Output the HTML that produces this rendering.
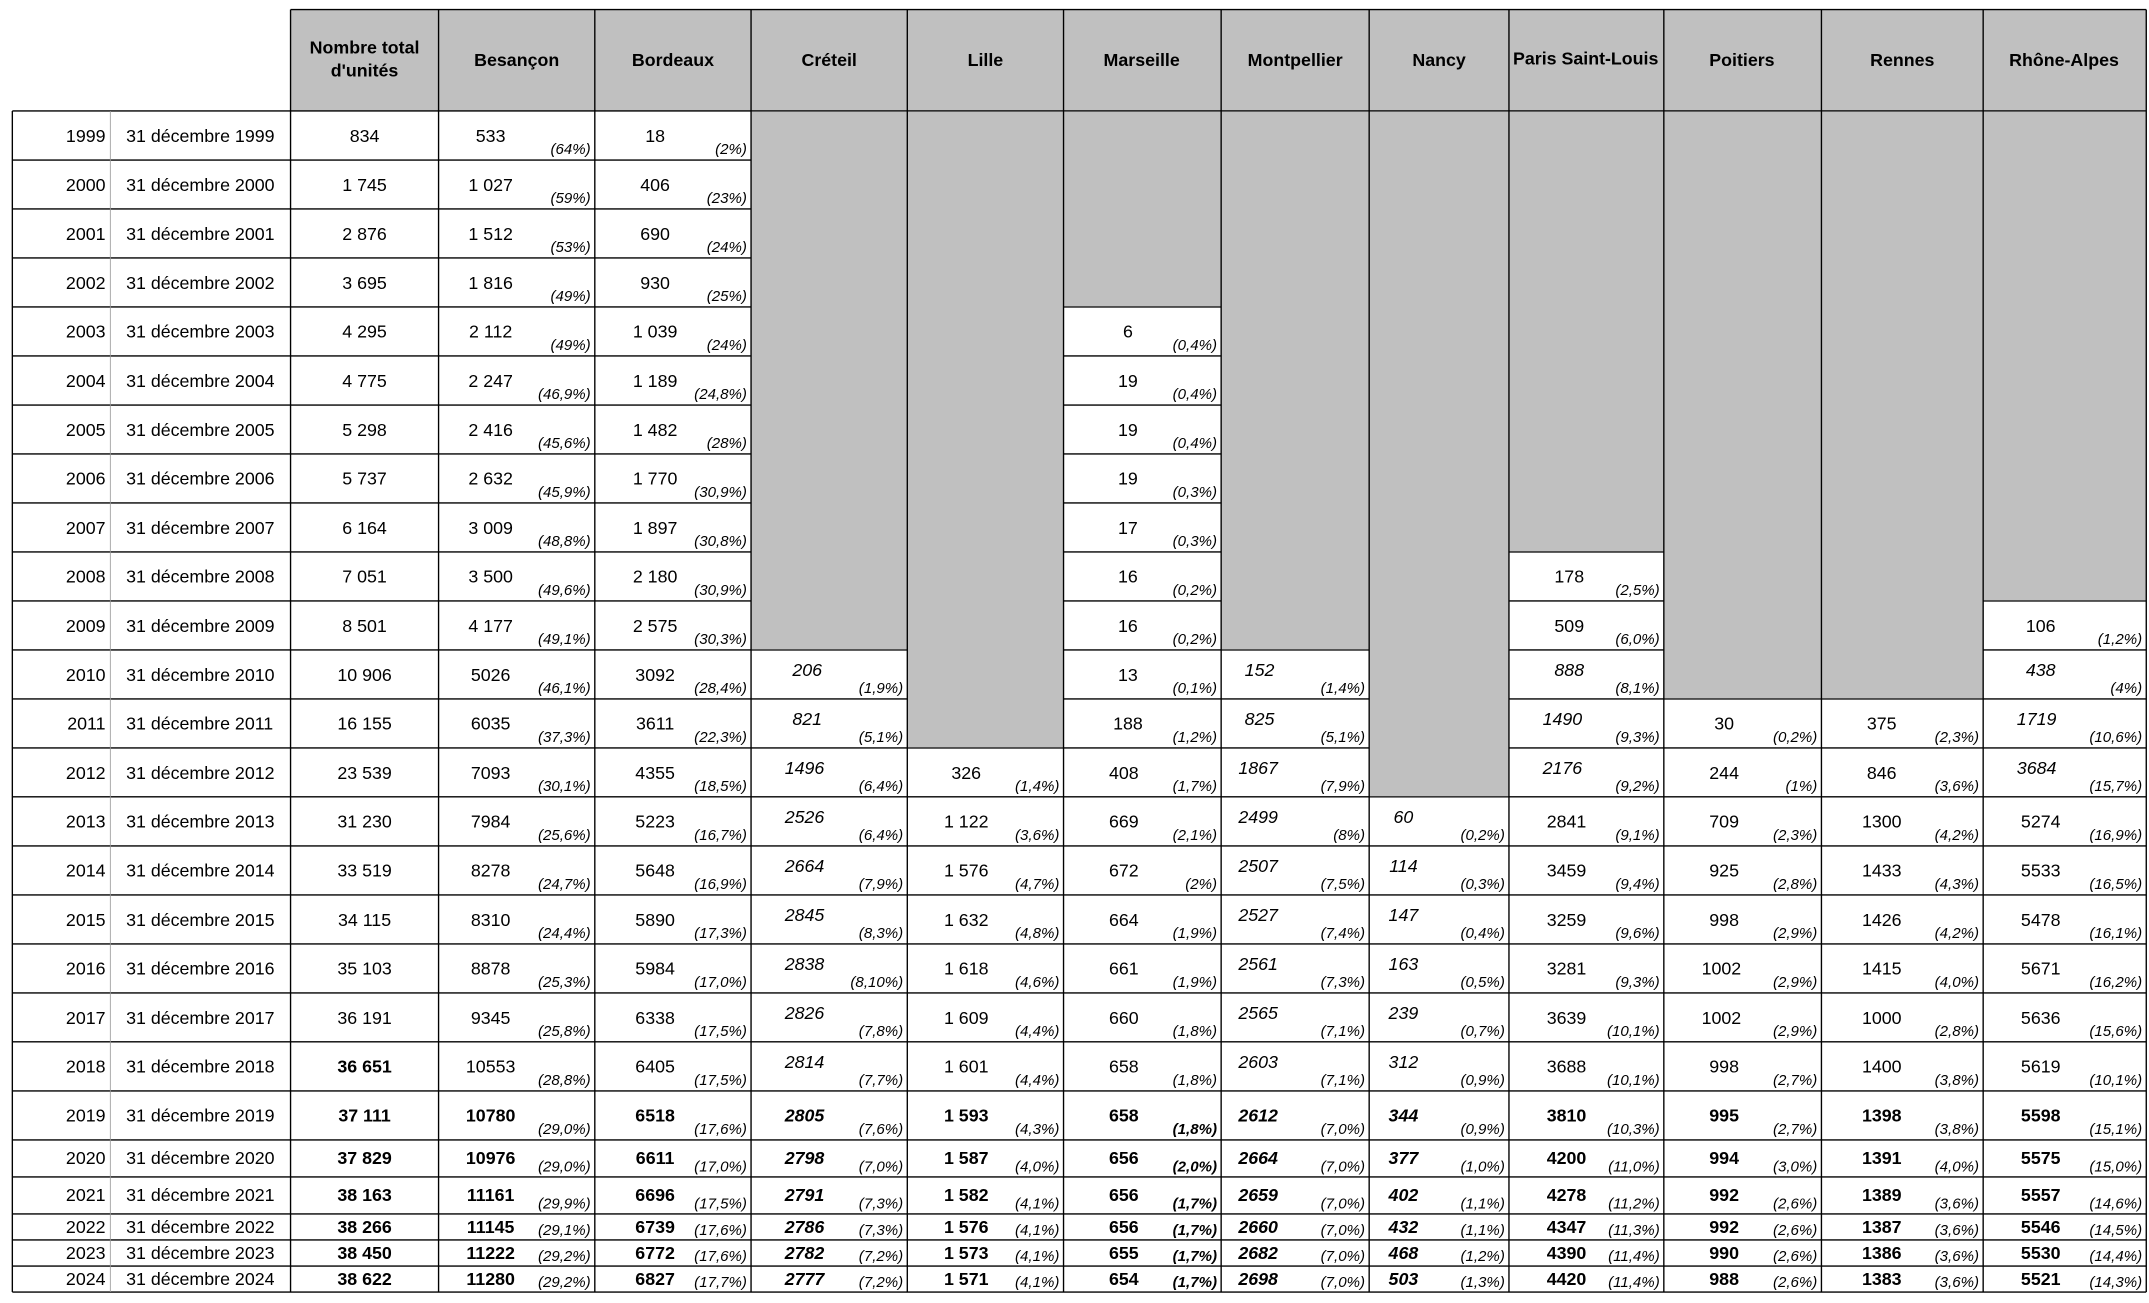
<!DOCTYPE html>
<html><head><meta charset="utf-8"><style>
html,body{margin:0;padding:0;background:#fff;}
svg{display:block;}
text{font-family:"Liberation Sans",Arial,sans-serif;fill:#000;}
.h{font-size:13px;font-weight:bold;text-anchor:middle;}
.v{font-size:13px;text-anchor:middle;}
.p{font-size:11px;font-style:italic;text-anchor:end;}
.y{font-size:13px;text-anchor:end;}
.d{font-size:13px;text-anchor:start;}
.i{font-style:italic;}
.b{font-weight:bold;}
</style></head><body>
<svg width="2149" height="1303" viewBox="0 0 1568 951" preserveAspectRatio="none" xmlns="http://www.w3.org/2000/svg">
<rect x="0" y="0" width="1568" height="951" fill="#fff"/>
<!-- header -->
<rect x="212" y="7" width="1354" height="74" fill="#c0c0c0"/>
<!-- horizontal lines -->
<g stroke="#000" stroke-width="1">
<line x1="212" y1="7" x2="1566" y2="7"/>
<line x1="9" y1="81" x2="1566" y2="81"/>
<line x1="9" y1="116.8" x2="1566" y2="116.8"/>
<line x1="9" y1="152.5" x2="1566" y2="152.5"/>
<line x1="9" y1="188.3" x2="1566" y2="188.3"/>
<line x1="9" y1="224" x2="1566" y2="224"/>
<line x1="9" y1="259.8" x2="1566" y2="259.8"/>
<line x1="9" y1="295.6" x2="1566" y2="295.6"/>
<line x1="9" y1="331.3" x2="1566" y2="331.3"/>
<line x1="9" y1="367.1" x2="1566" y2="367.1"/>
<line x1="9" y1="402.8" x2="1566" y2="402.8"/>
<line x1="9" y1="438.6" x2="1566" y2="438.6"/>
<line x1="9" y1="474.4" x2="1566" y2="474.4"/>
<line x1="9" y1="510.1" x2="1566" y2="510.1"/>
<line x1="9" y1="545.9" x2="1566" y2="545.9"/>
<line x1="9" y1="581.6" x2="1566" y2="581.6"/>
<line x1="9" y1="617.4" x2="1566" y2="617.4"/>
<line x1="9" y1="653.2" x2="1566" y2="653.2"/>
<line x1="9" y1="688.9" x2="1566" y2="688.9"/>
<line x1="9" y1="724.7" x2="1566" y2="724.7"/>
<line x1="9" y1="760.4" x2="1566" y2="760.4"/>
<line x1="9" y1="796.2" x2="1566" y2="796.2"/>
<line x1="9" y1="832" x2="1566" y2="832"/>
<line x1="9" y1="859" x2="1566" y2="859"/>
<line x1="9" y1="886" x2="1566" y2="886"/>
<line x1="9" y1="905" x2="1566" y2="905"/>
<line x1="9" y1="924" x2="1566" y2="924"/>
<line x1="9" y1="943" x2="1566" y2="943"/>
</g>
<!-- gray empty blocks -->
<g fill="#c0c0c0">
<rect x="548" y="81.5" width="114" height="392.4"/>
<rect x="662" y="81.5" width="114" height="463.9"/>
<rect x="776" y="81.5" width="115" height="142"/>
<rect x="891" y="81.5" width="108" height="392.4"/>
<rect x="999" y="81.5" width="102" height="499.6"/>
<rect x="1101" y="81.5" width="113" height="320.8"/>
<rect x="1214" y="81.5" width="115" height="428.1"/>
<rect x="1329" y="81.5" width="118" height="428.1"/>
<rect x="1447" y="81.5" width="119" height="356.6"/>
</g>
<!-- vertical lines -->
<g stroke="#000" stroke-width="1">
<line x1="9" y1="81" x2="9" y2="943"/>
<line x1="212" y1="7" x2="212" y2="943"/>
<line x1="320" y1="7" x2="320" y2="943"/>
<line x1="434" y1="7" x2="434" y2="943"/>
<line x1="548" y1="7" x2="548" y2="943"/>
<line x1="662" y1="7" x2="662" y2="943"/>
<line x1="776" y1="7" x2="776" y2="943"/>
<line x1="891" y1="7" x2="891" y2="943"/>
<line x1="999" y1="7" x2="999" y2="943"/>
<line x1="1101" y1="7" x2="1101" y2="943"/>
<line x1="1214" y1="7" x2="1214" y2="943"/>
<line x1="1329" y1="7" x2="1329" y2="943"/>
<line x1="1447" y1="7" x2="1447" y2="943"/>
<line x1="1566" y1="7" x2="1566" y2="943"/>
</g>
<line x1="80.5" y1="81" x2="80.5" y2="943" stroke="#999" stroke-width="0.6"/>
<!-- header text -->
<text class="h" x="266" y="39">Nombre total</text>
<text class="h" x="266" y="56">d'unités</text>
<text class="h" x="377" y="48">Besançon</text>
<text class="h" x="491" y="48">Bordeaux</text>
<text class="h" x="605" y="48">Créteil</text>
<text class="h" x="719" y="48">Lille</text>
<text class="h" x="833" y="48">Marseille</text>
<text class="h" x="945" y="48">Montpellier</text>
<text class="h" x="1050" y="48">Nancy</text>
<text class="h" x="1157" y="47">Paris Saint-Louis</text>
<text class="h" x="1271" y="48">Poitiers</text>
<text class="h" x="1388" y="48">Rennes</text>
<text class="h" x="1506" y="48">Rhône-Alpes</text>

<!-- rows -->
<g transform="translate(0,81)">
<text class="y" x="77" y="22.5">1999</text><text class="d" x="92" y="22.5">31 décembre 1999</text><text class="v" x="266" y="22.5">834</text>
<text class="v" x="358" y="22.5">533</text><text class="p" x="431" y="31.5">(64%)</text>
<text class="v" x="478" y="22.5">18</text><text class="p" x="545" y="31.5">(2%)</text>
</g>
<g transform="translate(0,116.8)">
<text class="y" x="77" y="22.5">2000</text><text class="d" x="92" y="22.5">31 décembre 2000</text><text class="v" x="266" y="22.5">1 745</text>
<text class="v" x="358" y="22.5">1 027</text><text class="p" x="431" y="31.5">(59%)</text>
<text class="v" x="478" y="22.5">406</text><text class="p" x="545" y="31.5">(23%)</text>
</g>
<g transform="translate(0,152.5)">
<text class="y" x="77" y="22.5">2001</text><text class="d" x="92" y="22.5">31 décembre 2001</text><text class="v" x="266" y="22.5">2 876</text>
<text class="v" x="358" y="22.5">1 512</text><text class="p" x="431" y="31.5">(53%)</text>
<text class="v" x="478" y="22.5">690</text><text class="p" x="545" y="31.5">(24%)</text>
</g>
<g transform="translate(0,188.3)">
<text class="y" x="77" y="22.5">2002</text><text class="d" x="92" y="22.5">31 décembre 2002</text><text class="v" x="266" y="22.5">3 695</text>
<text class="v" x="358" y="22.5">1 816</text><text class="p" x="431" y="31.5">(49%)</text>
<text class="v" x="478" y="22.5">930</text><text class="p" x="545" y="31.5">(25%)</text>
</g>
<g transform="translate(0,224)">
<text class="y" x="77" y="22.5">2003</text><text class="d" x="92" y="22.5">31 décembre 2003</text><text class="v" x="266" y="22.5">4 295</text>
<text class="v" x="358" y="22.5">2 112</text><text class="p" x="431" y="31.5">(49%)</text>
<text class="v" x="478" y="22.5">1 039</text><text class="p" x="545" y="31.5">(24%)</text>
<text class="v" x="823" y="22.5">6</text><text class="p" x="888" y="31.5">(0,4%)</text>
</g>
<g transform="translate(0,259.8)">
<text class="y" x="77" y="22.5">2004</text><text class="d" x="92" y="22.5">31 décembre 2004</text><text class="v" x="266" y="22.5">4 775</text>
<text class="v" x="358" y="22.5">2 247</text><text class="p" x="431" y="31.5">(46,9%)</text>
<text class="v" x="478" y="22.5">1 189</text><text class="p" x="545" y="31.5">(24,8%)</text>
<text class="v" x="823" y="22.5">19</text><text class="p" x="888" y="31.5">(0,4%)</text>
</g>
<g transform="translate(0,295.6)">
<text class="y" x="77" y="22.5">2005</text><text class="d" x="92" y="22.5">31 décembre 2005</text><text class="v" x="266" y="22.5">5 298</text>
<text class="v" x="358" y="22.5">2 416</text><text class="p" x="431" y="31.5">(45,6%)</text>
<text class="v" x="478" y="22.5">1 482</text><text class="p" x="545" y="31.5">(28%)</text>
<text class="v" x="823" y="22.5">19</text><text class="p" x="888" y="31.5">(0,4%)</text>
</g>
<g transform="translate(0,331.3)">
<text class="y" x="77" y="22.5">2006</text><text class="d" x="92" y="22.5">31 décembre 2006</text><text class="v" x="266" y="22.5">5 737</text>
<text class="v" x="358" y="22.5">2 632</text><text class="p" x="431" y="31.5">(45,9%)</text>
<text class="v" x="478" y="22.5">1 770</text><text class="p" x="545" y="31.5">(30,9%)</text>
<text class="v" x="823" y="22.5">19</text><text class="p" x="888" y="31.5">(0,3%)</text>
</g>
<g transform="translate(0,367.1)">
<text class="y" x="77" y="22.5">2007</text><text class="d" x="92" y="22.5">31 décembre 2007</text><text class="v" x="266" y="22.5">6 164</text>
<text class="v" x="358" y="22.5">3 009</text><text class="p" x="431" y="31.5">(48,8%)</text>
<text class="v" x="478" y="22.5">1 897</text><text class="p" x="545" y="31.5">(30,8%)</text>
<text class="v" x="823" y="22.5">17</text><text class="p" x="888" y="31.5">(0,3%)</text>
</g>
<g transform="translate(0,402.8)">
<text class="y" x="77" y="22.5">2008</text><text class="d" x="92" y="22.5">31 décembre 2008</text><text class="v" x="266" y="22.5">7 051</text>
<text class="v" x="358" y="22.5">3 500</text><text class="p" x="431" y="31.5">(49,6%)</text>
<text class="v" x="478" y="22.5">2 180</text><text class="p" x="545" y="31.5">(30,9%)</text>
<text class="v" x="823" y="22.5">16</text><text class="p" x="888" y="31.5">(0,2%)</text>
<text class="v" x="1145" y="22.5">178</text><text class="p" x="1211" y="31.5">(2,5%)</text>
</g>
<g transform="translate(0,438.6)">
<text class="y" x="77" y="22.5">2009</text><text class="d" x="92" y="22.5">31 décembre 2009</text><text class="v" x="266" y="22.5">8 501</text>
<text class="v" x="358" y="22.5">4 177</text><text class="p" x="431" y="31.5">(49,1%)</text>
<text class="v" x="478" y="22.5">2 575</text><text class="p" x="545" y="31.5">(30,3%)</text>
<text class="v" x="823" y="22.5">16</text><text class="p" x="888" y="31.5">(0,2%)</text>
<text class="v" x="1145" y="22.5">509</text><text class="p" x="1211" y="31.5">(6,0%)</text>
<text class="v" x="1489" y="22.5">106</text><text class="p" x="1563" y="31.5">(1,2%)</text>
</g>
<g transform="translate(0,474.4)">
<text class="y" x="77" y="22.5">2010</text><text class="d" x="92" y="22.5">31 décembre 2010</text><text class="v" x="266" y="22.5">10 906</text>
<text class="v" x="358" y="22.5">5026</text><text class="p" x="431" y="31.5">(46,1%)</text>
<text class="v" x="478" y="22.5">3092</text><text class="p" x="545" y="31.5">(28,4%)</text>
<text class="v i" x="589" y="19">206</text><text class="p" x="659" y="31.5">(1,9%)</text>
<text class="v" x="823" y="22.5">13</text><text class="p" x="888" y="31.5">(0,1%)</text>
<text class="v i" x="919" y="19">152</text><text class="p" x="996" y="31.5">(1,4%)</text>
<text class="v i" x="1145" y="19">888</text><text class="p" x="1211" y="31.5">(8,1%)</text>
<text class="v i" x="1489" y="19">438</text><text class="p" x="1563" y="31.5">(4%)</text>
</g>
<g transform="translate(0,510.1)">
<text class="y" x="77" y="22.5">2011</text><text class="d" x="92" y="22.5">31 décembre 2011</text><text class="v" x="266" y="22.5">16 155</text>
<text class="v" x="358" y="22.5">6035</text><text class="p" x="431" y="31.5">(37,3%)</text>
<text class="v" x="478" y="22.5">3611</text><text class="p" x="545" y="31.5">(22,3%)</text>
<text class="v i" x="589" y="19">821</text><text class="p" x="659" y="31.5">(5,1%)</text>
<text class="v" x="823" y="22.5">188</text><text class="p" x="888" y="31.5">(1,2%)</text>
<text class="v i" x="919" y="19">825</text><text class="p" x="996" y="31.5">(5,1%)</text>
<text class="v i" x="1140" y="19">1490</text><text class="p" x="1211" y="31.5">(9,3%)</text>
<text class="v" x="1258" y="22.5">30</text><text class="p" x="1326" y="31.5">(0,2%)</text>
<text class="v" x="1373" y="22.5">375</text><text class="p" x="1444" y="31.5">(2,3%)</text>
<text class="v i" x="1486" y="19">1719</text><text class="p" x="1563" y="31.5">(10,6%)</text>
</g>
<g transform="translate(0,545.9)">
<text class="y" x="77" y="22.5">2012</text><text class="d" x="92" y="22.5">31 décembre 2012</text><text class="v" x="266" y="22.5">23 539</text>
<text class="v" x="358" y="22.5">7093</text><text class="p" x="431" y="31.5">(30,1%)</text>
<text class="v" x="478" y="22.5">4355</text><text class="p" x="545" y="31.5">(18,5%)</text>
<text class="v i" x="587" y="19">1496</text><text class="p" x="659" y="31.5">(6,4%)</text>
<text class="v" x="705" y="22.5">326</text><text class="p" x="773" y="31.5">(1,4%)</text>
<text class="v" x="820" y="22.5">408</text><text class="p" x="888" y="31.5">(1,7%)</text>
<text class="v i" x="918" y="19">1867</text><text class="p" x="996" y="31.5">(7,9%)</text>
<text class="v i" x="1140" y="19">2176</text><text class="p" x="1211" y="31.5">(9,2%)</text>
<text class="v" x="1258" y="22.5">244</text><text class="p" x="1326" y="31.5">(1%)</text>
<text class="v" x="1373" y="22.5">846</text><text class="p" x="1444" y="31.5">(3,6%)</text>
<text class="v i" x="1486" y="19">3684</text><text class="p" x="1563" y="31.5">(15,7%)</text>
</g>
<g transform="translate(0,581.6)">
<text class="y" x="77" y="22.5">2013</text><text class="d" x="92" y="22.5">31 décembre 2013</text><text class="v" x="266" y="22.5">31 230</text>
<text class="v" x="358" y="22.5">7984</text><text class="p" x="431" y="31.5">(25,6%)</text>
<text class="v" x="478" y="22.5">5223</text><text class="p" x="545" y="31.5">(16,7%)</text>
<text class="v i" x="587" y="19">2526</text><text class="p" x="659" y="31.5">(6,4%)</text>
<text class="v" x="705" y="22.5">1 122</text><text class="p" x="773" y="31.5">(3,6%)</text>
<text class="v" x="820" y="22.5">669</text><text class="p" x="888" y="31.5">(2,1%)</text>
<text class="v i" x="918" y="19">2499</text><text class="p" x="996" y="31.5">(8%)</text>
<text class="v i" x="1024" y="19">60</text><text class="p" x="1098" y="31.5">(0,2%)</text>
<text class="v" x="1143" y="22.5">2841</text><text class="p" x="1211" y="31.5">(9,1%)</text>
<text class="v" x="1258" y="22.5">709</text><text class="p" x="1326" y="31.5">(2,3%)</text>
<text class="v" x="1373" y="22.5">1300</text><text class="p" x="1444" y="31.5">(4,2%)</text>
<text class="v" x="1489" y="22.5">5274</text><text class="p" x="1563" y="31.5">(16,9%)</text>
</g>
<g transform="translate(0,617.4)">
<text class="y" x="77" y="22.5">2014</text><text class="d" x="92" y="22.5">31 décembre 2014</text><text class="v" x="266" y="22.5">33 519</text>
<text class="v" x="358" y="22.5">8278</text><text class="p" x="431" y="31.5">(24,7%)</text>
<text class="v" x="478" y="22.5">5648</text><text class="p" x="545" y="31.5">(16,9%)</text>
<text class="v i" x="587" y="19">2664</text><text class="p" x="659" y="31.5">(7,9%)</text>
<text class="v" x="705" y="22.5">1 576</text><text class="p" x="773" y="31.5">(4,7%)</text>
<text class="v" x="820" y="22.5">672</text><text class="p" x="888" y="31.5">(2%)</text>
<text class="v i" x="918" y="19">2507</text><text class="p" x="996" y="31.5">(7,5%)</text>
<text class="v i" x="1024" y="19">114</text><text class="p" x="1098" y="31.5">(0,3%)</text>
<text class="v" x="1143" y="22.5">3459</text><text class="p" x="1211" y="31.5">(9,4%)</text>
<text class="v" x="1258" y="22.5">925</text><text class="p" x="1326" y="31.5">(2,8%)</text>
<text class="v" x="1373" y="22.5">1433</text><text class="p" x="1444" y="31.5">(4,3%)</text>
<text class="v" x="1489" y="22.5">5533</text><text class="p" x="1563" y="31.5">(16,5%)</text>
</g>
<g transform="translate(0,653.2)">
<text class="y" x="77" y="22.5">2015</text><text class="d" x="92" y="22.5">31 décembre 2015</text><text class="v" x="266" y="22.5">34 115</text>
<text class="v" x="358" y="22.5">8310</text><text class="p" x="431" y="31.5">(24,4%)</text>
<text class="v" x="478" y="22.5">5890</text><text class="p" x="545" y="31.5">(17,3%)</text>
<text class="v i" x="587" y="19">2845</text><text class="p" x="659" y="31.5">(8,3%)</text>
<text class="v" x="705" y="22.5">1 632</text><text class="p" x="773" y="31.5">(4,8%)</text>
<text class="v" x="820" y="22.5">664</text><text class="p" x="888" y="31.5">(1,9%)</text>
<text class="v i" x="918" y="19">2527</text><text class="p" x="996" y="31.5">(7,4%)</text>
<text class="v i" x="1024" y="19">147</text><text class="p" x="1098" y="31.5">(0,4%)</text>
<text class="v" x="1143" y="22.5">3259</text><text class="p" x="1211" y="31.5">(9,6%)</text>
<text class="v" x="1258" y="22.5">998</text><text class="p" x="1326" y="31.5">(2,9%)</text>
<text class="v" x="1373" y="22.5">1426</text><text class="p" x="1444" y="31.5">(4,2%)</text>
<text class="v" x="1489" y="22.5">5478</text><text class="p" x="1563" y="31.5">(16,1%)</text>
</g>
<g transform="translate(0,688.9)">
<text class="y" x="77" y="22.5">2016</text><text class="d" x="92" y="22.5">31 décembre 2016</text><text class="v" x="266" y="22.5">35 103</text>
<text class="v" x="358" y="22.5">8878</text><text class="p" x="431" y="31.5">(25,3%)</text>
<text class="v" x="478" y="22.5">5984</text><text class="p" x="545" y="31.5">(17,0%)</text>
<text class="v i" x="587" y="19">2838</text><text class="p" x="659" y="31.5">(8,10%)</text>
<text class="v" x="705" y="22.5">1 618</text><text class="p" x="773" y="31.5">(4,6%)</text>
<text class="v" x="820" y="22.5">661</text><text class="p" x="888" y="31.5">(1,9%)</text>
<text class="v i" x="918" y="19">2561</text><text class="p" x="996" y="31.5">(7,3%)</text>
<text class="v i" x="1024" y="19">163</text><text class="p" x="1098" y="31.5">(0,5%)</text>
<text class="v" x="1143" y="22.5">3281</text><text class="p" x="1211" y="31.5">(9,3%)</text>
<text class="v" x="1256" y="22.5">1002</text><text class="p" x="1326" y="31.5">(2,9%)</text>
<text class="v" x="1373" y="22.5">1415</text><text class="p" x="1444" y="31.5">(4,0%)</text>
<text class="v" x="1489" y="22.5">5671</text><text class="p" x="1563" y="31.5">(16,2%)</text>
</g>
<g transform="translate(0,724.7)">
<text class="y" x="77" y="22.5">2017</text><text class="d" x="92" y="22.5">31 décembre 2017</text><text class="v" x="266" y="22.5">36 191</text>
<text class="v" x="358" y="22.5">9345</text><text class="p" x="431" y="31.5">(25,8%)</text>
<text class="v" x="478" y="22.5">6338</text><text class="p" x="545" y="31.5">(17,5%)</text>
<text class="v i" x="587" y="19">2826</text><text class="p" x="659" y="31.5">(7,8%)</text>
<text class="v" x="705" y="22.5">1 609</text><text class="p" x="773" y="31.5">(4,4%)</text>
<text class="v" x="820" y="22.5">660</text><text class="p" x="888" y="31.5">(1,8%)</text>
<text class="v i" x="918" y="19">2565</text><text class="p" x="996" y="31.5">(7,1%)</text>
<text class="v i" x="1024" y="19">239</text><text class="p" x="1098" y="31.5">(0,7%)</text>
<text class="v" x="1143" y="22.5">3639</text><text class="p" x="1211" y="31.5">(10,1%)</text>
<text class="v" x="1256" y="22.5">1002</text><text class="p" x="1326" y="31.5">(2,9%)</text>
<text class="v" x="1373" y="22.5">1000</text><text class="p" x="1444" y="31.5">(2,8%)</text>
<text class="v" x="1489" y="22.5">5636</text><text class="p" x="1563" y="31.5">(15,6%)</text>
</g>
<g transform="translate(0,760.4)">
<text class="y" x="77" y="22.5">2018</text><text class="d" x="92" y="22.5">31 décembre 2018</text><text class="v b" x="266" y="22.5">36 651</text>
<text class="v" x="358" y="22.5">10553</text><text class="p" x="431" y="31.5">(28,8%)</text>
<text class="v" x="478" y="22.5">6405</text><text class="p" x="545" y="31.5">(17,5%)</text>
<text class="v i" x="587" y="19">2814</text><text class="p" x="659" y="31.5">(7,7%)</text>
<text class="v" x="705" y="22.5">1 601</text><text class="p" x="773" y="31.5">(4,4%)</text>
<text class="v" x="820" y="22.5">658</text><text class="p" x="888" y="31.5">(1,8%)</text>
<text class="v i" x="918" y="19">2603</text><text class="p" x="996" y="31.5">(7,1%)</text>
<text class="v i" x="1024" y="19">312</text><text class="p" x="1098" y="31.5">(0,9%)</text>
<text class="v" x="1143" y="22.5">3688</text><text class="p" x="1211" y="31.5">(10,1%)</text>
<text class="v" x="1258" y="22.5">998</text><text class="p" x="1326" y="31.5">(2,7%)</text>
<text class="v" x="1373" y="22.5">1400</text><text class="p" x="1444" y="31.5">(3,8%)</text>
<text class="v" x="1489" y="22.5">5619</text><text class="p" x="1563" y="31.5">(10,1%)</text>
</g>
<g transform="translate(0,796.2)">
<text class="y" x="77" y="22.5">2019</text><text class="d" x="92" y="22.5">31 décembre 2019</text><text class="v b" x="266" y="22.5">37 111</text>
<text class="v b" x="358" y="22.5">10780</text><text class="p" x="431" y="31.5">(29,0%)</text>
<text class="v b" x="478" y="22.5">6518</text><text class="p" x="545" y="31.5">(17,6%)</text>
<text class="v i b" x="587" y="22.5">2805</text><text class="p" x="659" y="31.5">(7,6%)</text>
<text class="v b" x="705" y="22.5">1 593</text><text class="p" x="773" y="31.5">(4,3%)</text>
<text class="v b" x="820" y="22.5">658</text><text class="p b" x="888" y="31.5">(1,8%)</text>
<text class="v i b" x="918" y="22.5">2612</text><text class="p" x="996" y="31.5">(7,0%)</text>
<text class="v i b" x="1024" y="22.5">344</text><text class="p" x="1098" y="31.5">(0,9%)</text>
<text class="v b" x="1143" y="22.5">3810</text><text class="p" x="1211" y="31.5">(10,3%)</text>
<text class="v b" x="1258" y="22.5">995</text><text class="p" x="1326" y="31.5">(2,7%)</text>
<text class="v b" x="1373" y="22.5">1398</text><text class="p" x="1444" y="31.5">(3,8%)</text>
<text class="v b" x="1489" y="22.5">5598</text><text class="p" x="1563" y="31.5">(15,1%)</text>
</g>
<g transform="translate(0,832)">
<text class="y" x="77" y="17.5">2020</text><text class="d" x="92" y="17.5">31 décembre 2020</text><text class="v b" x="266" y="17.5">37 829</text>
<text class="v b" x="358" y="17.5">10976</text><text class="p" x="431" y="23">(29,0%)</text>
<text class="v b" x="478" y="17.5">6611</text><text class="p" x="545" y="23">(17,0%)</text>
<text class="v i b" x="587" y="17.5">2798</text><text class="p" x="659" y="23">(7,0%)</text>
<text class="v b" x="705" y="17.5">1 587</text><text class="p" x="773" y="23">(4,0%)</text>
<text class="v b" x="820" y="17.5">656</text><text class="p b" x="888" y="23">(2,0%)</text>
<text class="v i b" x="918" y="17.5">2664</text><text class="p" x="996" y="23">(7,0%)</text>
<text class="v i b" x="1024" y="17.5">377</text><text class="p" x="1098" y="23">(1,0%)</text>
<text class="v b" x="1143" y="17.5">4200</text><text class="p" x="1211" y="23">(11,0%)</text>
<text class="v b" x="1258" y="17.5">994</text><text class="p" x="1326" y="23">(3,0%)</text>
<text class="v b" x="1373" y="17.5">1391</text><text class="p" x="1444" y="23">(4,0%)</text>
<text class="v b" x="1489" y="17.5">5575</text><text class="p" x="1563" y="23">(15,0%)</text>
</g>
<g transform="translate(0,859)">
<text class="y" x="77" y="17.5">2021</text><text class="d" x="92" y="17.5">31 décembre 2021</text><text class="v b" x="266" y="17.5">38 163</text>
<text class="v b" x="358" y="17.5">11161</text><text class="p" x="431" y="23">(29,9%)</text>
<text class="v b" x="478" y="17.5">6696</text><text class="p" x="545" y="23">(17,5%)</text>
<text class="v i b" x="587" y="17.5">2791</text><text class="p" x="659" y="23">(7,3%)</text>
<text class="v b" x="705" y="17.5">1 582</text><text class="p" x="773" y="23">(4,1%)</text>
<text class="v b" x="820" y="17.5">656</text><text class="p b" x="888" y="23">(1,7%)</text>
<text class="v i b" x="918" y="17.5">2659</text><text class="p" x="996" y="23">(7,0%)</text>
<text class="v i b" x="1024" y="17.5">402</text><text class="p" x="1098" y="23">(1,1%)</text>
<text class="v b" x="1143" y="17.5">4278</text><text class="p" x="1211" y="23">(11,2%)</text>
<text class="v b" x="1258" y="17.5">992</text><text class="p" x="1326" y="23">(2,6%)</text>
<text class="v b" x="1373" y="17.5">1389</text><text class="p" x="1444" y="23">(3,6%)</text>
<text class="v b" x="1489" y="17.5">5557</text><text class="p" x="1563" y="23">(14,6%)</text>
</g>
<g transform="translate(0,886)">
<text class="y" x="77" y="14">2022</text><text class="d" x="92" y="14">31 décembre 2022</text><text class="v b" x="266" y="14">38 266</text>
<text class="v b" x="358" y="14">11145</text><text class="p" x="431" y="15.5">(29,1%)</text>
<text class="v b" x="478" y="14">6739</text><text class="p" x="545" y="15.5">(17,6%)</text>
<text class="v i b" x="587" y="14">2786</text><text class="p" x="659" y="15.5">(7,3%)</text>
<text class="v b" x="705" y="14">1 576</text><text class="p" x="773" y="15.5">(4,1%)</text>
<text class="v b" x="820" y="14">656</text><text class="p b" x="888" y="15.5">(1,7%)</text>
<text class="v i b" x="918" y="14">2660</text><text class="p" x="996" y="15.5">(7,0%)</text>
<text class="v i b" x="1024" y="14">432</text><text class="p" x="1098" y="15.5">(1,1%)</text>
<text class="v b" x="1143" y="14">4347</text><text class="p" x="1211" y="15.5">(11,3%)</text>
<text class="v b" x="1258" y="14">992</text><text class="p" x="1326" y="15.5">(2,6%)</text>
<text class="v b" x="1373" y="14">1387</text><text class="p" x="1444" y="15.5">(3,6%)</text>
<text class="v b" x="1489" y="14">5546</text><text class="p" x="1563" y="15.5">(14,5%)</text>
</g>
<g transform="translate(0,905)">
<text class="y" x="77" y="14">2023</text><text class="d" x="92" y="14">31 décembre 2023</text><text class="v b" x="266" y="14">38 450</text>
<text class="v b" x="358" y="14">11222</text><text class="p" x="431" y="15.5">(29,2%)</text>
<text class="v b" x="478" y="14">6772</text><text class="p" x="545" y="15.5">(17,6%)</text>
<text class="v i b" x="587" y="14">2782</text><text class="p" x="659" y="15.5">(7,2%)</text>
<text class="v b" x="705" y="14">1 573</text><text class="p" x="773" y="15.5">(4,1%)</text>
<text class="v b" x="820" y="14">655</text><text class="p b" x="888" y="15.5">(1,7%)</text>
<text class="v i b" x="918" y="14">2682</text><text class="p" x="996" y="15.5">(7,0%)</text>
<text class="v i b" x="1024" y="14">468</text><text class="p" x="1098" y="15.5">(1,2%)</text>
<text class="v b" x="1143" y="14">4390</text><text class="p" x="1211" y="15.5">(11,4%)</text>
<text class="v b" x="1258" y="14">990</text><text class="p" x="1326" y="15.5">(2,6%)</text>
<text class="v b" x="1373" y="14">1386</text><text class="p" x="1444" y="15.5">(3,6%)</text>
<text class="v b" x="1489" y="14">5530</text><text class="p" x="1563" y="15.5">(14,4%)</text>
</g>
<g transform="translate(0,924)">
<text class="y" x="77" y="14">2024</text><text class="d" x="92" y="14">31 décembre 2024</text><text class="v b" x="266" y="14">38 622</text>
<text class="v b" x="358" y="14">11280</text><text class="p" x="431" y="15.5">(29,2%)</text>
<text class="v b" x="478" y="14">6827</text><text class="p" x="545" y="15.5">(17,7%)</text>
<text class="v i b" x="587" y="14">2777</text><text class="p" x="659" y="15.5">(7,2%)</text>
<text class="v b" x="705" y="14">1 571</text><text class="p" x="773" y="15.5">(4,1%)</text>
<text class="v b" x="820" y="14">654</text><text class="p b" x="888" y="15.5">(1,7%)</text>
<text class="v i b" x="918" y="14">2698</text><text class="p" x="996" y="15.5">(7,0%)</text>
<text class="v i b" x="1024" y="14">503</text><text class="p" x="1098" y="15.5">(1,3%)</text>
<text class="v b" x="1143" y="14">4420</text><text class="p" x="1211" y="15.5">(11,4%)</text>
<text class="v b" x="1258" y="14">988</text><text class="p" x="1326" y="15.5">(2,6%)</text>
<text class="v b" x="1373" y="14">1383</text><text class="p" x="1444" y="15.5">(3,6%)</text>
<text class="v b" x="1489" y="14">5521</text><text class="p" x="1563" y="15.5">(14,3%)</text>
</g>
</svg>
</body></html>
